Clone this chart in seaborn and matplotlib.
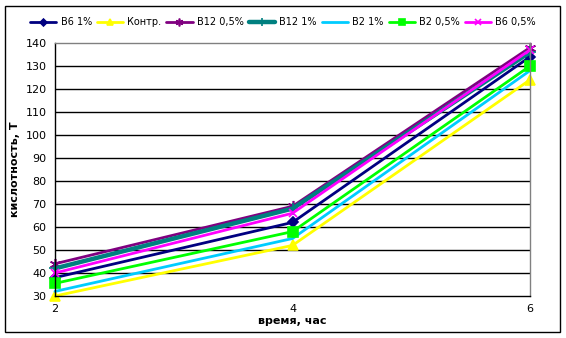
import matplotlib
matplotlib.use("Agg")
import matplotlib.pyplot as plt
import seaborn as sns
import pandas as pd

hours = [2, 4, 6]
series_names = ["B6 1%", "Контр.", "B12 0,5%", "B12 1%", "B2 1%", "B2 0,5%", "B6 0,5%"]
b6_1 = [38, 62, 134]
control = [30, 52, 124]
b12_05 = [44, 69, 138]
b12_1 = [42, 68, 136]
b2_1 = [32, 55, 128]
b2_05 = [35.5, 58, 130]
b6_05 = [40, 66, 137]
y_ticks = list(range(30, 141, 10))

series_values = [b6_1, control, b12_05, b12_1, b2_1, b2_05, b6_05]
colors = ["#000080", "#FFFF00", "#800080", "#008080", "#00CCFF", "#00FF00", "#FF00FF"]
markers = ["D", "^", (6, 2, 0), "+", "", "s", "x"]
msizes = [5, 7, 8, 8, 0, 7, 6]
lwidths = [2, 2, 2, 3.2, 2, 2, 2]

frames = [pd.DataFrame({"hour": hours, "value": v, "series": n})
          for n, v in zip(series_names, series_values)]
df = pd.concat(frames, ignore_index=True)

sns.set_style("white")
plt.rcParams["font.family"] = ["DejaVu Sans"]
plt.rcParams["text.color"] = "black"
plt.rcParams["axes.labelcolor"] = "black"
plt.rcParams["xtick.color"] = "black"
plt.rcParams["ytick.color"] = "black"

fig = plt.figure(figsize=(5.66, 3.38), dpi=100)
ax = fig.add_axes([55 / 566, 1 - 296 / 338, (530 - 55) / 566, (296 - 43) / 338])

for name, c, m, ms, lw in zip(series_names, colors, markers, msizes, lwidths):
    sub = df[df["series"] == name]
    sns.lineplot(data=sub, x="hour", y="value", ax=ax, color=c, marker=m if m else None,
                 markersize=ms, markeredgecolor=c, markeredgewidth=1.2, linewidth=lw,
                 label=name, legend=False, clip_on=False)

ax.set_xlim(2, 6)
ax.set_ylim(30, 140)
ax.set_xticks(hours)
ax.set_yticks(y_ticks)
ax.tick_params(axis="both", labelsize=8, length=2.5, width=1, pad=3.5,
               direction="out", color="black", labelcolor="black")
for y in y_ticks[1:-1]:
    ax.axhline(y, color="black", linewidth=1, zorder=0)
for s in ["left", "bottom"]:
    ax.spines[s].set_color("black")
    ax.spines[s].set_linewidth(1)
for s in ["top", "right"]:
    ax.spines[s].set_color("#808080")
    ax.spines[s].set_linewidth(1)
ax.set_xlabel("время, час", fontsize=8, fontweight="bold", labelpad=1, color="black")
ax.set_ylabel("кислотность, Т", fontsize=8, fontweight="bold", labelpad=4, color="black")

handles, labels = ax.get_legend_handles_labels()
fig.legend(handles, labels, loc="center", bbox_to_anchor=(283 / 566, 1 - 22 / 338), ncol=7,
           frameon=False, fontsize=7, handlelength=2.7, handletextpad=0.45, columnspacing=0.5,
           markerscale=0.7, borderaxespad=0, borderpad=0, labelcolor="black")

border = plt.Rectangle((5 / 566, 6 / 338), 555 / 566, 326 / 338, transform=fig.transFigure,
                       fill=False, edgecolor="black", linewidth=1)
fig.patches.append(border)

fig.savefig("out.png", dpi=100)
